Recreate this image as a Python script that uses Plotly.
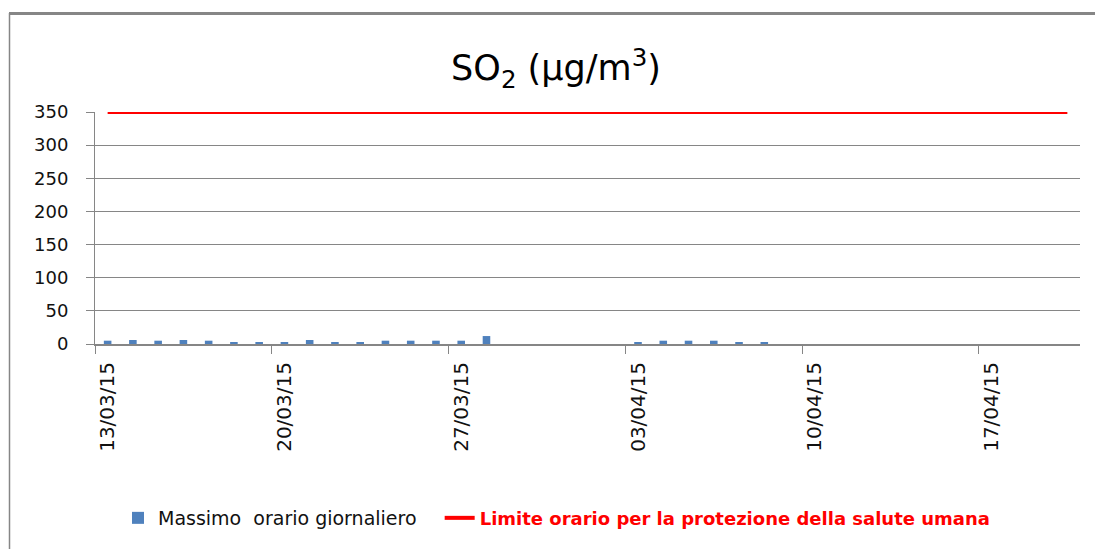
import pandas as pd
import plotly.graph_objects as go

# ---- data ----
dates = [d.strftime("%Y-%m-%d") for d in pd.date_range("2015-03-13", "2015-04-20", freq="D")]
massimo_orario = [5, 6, 5, 6, 5, 2, 2, 2, 6, 2, 2, 5, 5, 5, 5, 12,
                  None, None, None, None, None,
                  2, 5, 5, 5, 2, 2,
                  None, None, None, None, None, None, None, None, None, None, None, None]
limite_orario = [350] * len(dates)
tick_dates = ["2015-03-13", "2015-03-20", "2015-03-27", "2015-04-03", "2015-04-10", "2015-04-17"]
tick_labels = ["13/03/15", "20/03/15", "27/03/15", "03/04/15", "10/04/15", "17/04/15"]
y_ticks = [0, 50, 100, 150, 200, 250, 300, 350]

GRID = "#868686"
FONT = "DejaVu Sans"

boundaries = [(pd.Timestamp(d) - pd.Timedelta(hours=12)).strftime("%Y-%m-%d %H:%M") for d in tick_dates]
x_range = [(pd.Timestamp(dates[0]) - pd.Timedelta(hours=12)).strftime("%Y-%m-%d %H:%M"),
           (pd.Timestamp(dates[-1]) + pd.Timedelta(hours=12)).strftime("%Y-%m-%d %H:%M")]

fig = go.Figure()
fig.add_trace(go.Bar(x=dates, y=massimo_orario, name="Massimo  orario giornaliero\u00a0\u00a0\u00a0",
                     marker=dict(color="#4F81BD", line=dict(width=0))))
fig.add_trace(go.Scatter(x=dates, y=limite_orario, mode="lines",
                         name="<span style='color:#FF0000;font-weight:bold;font-size:18px'>Limite orario per la protezione della salute umana</span>",
                         line=dict(color="#FF0000", width=4)))

W, H = 1095, 549
L, R, T, B = 95, 15, 112, 205
pw, ph = W - L - R, H - T - B

def px_x(x):
    return (x - L) / pw

def px_y(y):
    return (H - B - y) / ph

fig.update_layout(
    width=W, height=H,
    margin=dict(l=L, r=R, t=T, b=B),
    paper_bgcolor="white", plot_bgcolor="white",
    font=dict(family=FONT, color="#111111", size=18),
    bargap=0.7,
    title=dict(text="SO<sub>2</sub> (µg/m<sup>3</sup>)", x=556 / W, xref="container", xanchor="center",
               y=1 - 68 / H, yref="container", yanchor="middle",
               font=dict(family=FONT, size=35, color="#000000")),
    showlegend=True,
    legend=dict(orientation="h", x=118 / W, xanchor="left", xref="container",
                y=1 - 518 / H, yref="container", yanchor="middle",
                font=dict(family=FONT, size=19, color="#111111"),
                itemwidth=30, bgcolor="rgba(0,0,0,0)"),
    xaxis=dict(type="date", range=x_range, tickvals=tick_dates, ticktext=tick_labels,
               tickangle=-90, ticks="outside", ticklen=8, tickcolor="rgba(0,0,0,0)",
               showgrid=False, showline=True, linecolor=GRID, linewidth=2,
               tickfont=dict(family=FONT, size=20, color="#111111"),
               minor=dict(tickvals=boundaries, ticks="outside", ticklen=8, tickcolor=GRID,
                          tickwidth=1, showgrid=False),
               zeroline=False),
    yaxis=dict(range=[0, 350], tickvals=y_ticks, showgrid=True, gridcolor=GRID, gridwidth=1,
               showline=True, linecolor=GRID, linewidth=1, ticks="outside", ticklen=8,
               tickcolor=GRID, ticklabelstandoff=14, zeroline=False,
               tickfont=dict(family=FONT, size=18, color="#111111")),
    shapes=[
        dict(type="line", xref="paper", yref="paper", x0=px_x(9), x1=px_x(1095), y0=px_y(13.5), y1=px_y(13.5),
             line=dict(color=GRID, width=3)),
        dict(type="line", xref="paper", yref="paper", x0=px_x(9.5), x1=px_x(9.5), y0=px_y(13), y1=px_y(549),
             line=dict(color=GRID, width=1.5)),
    ],
)

fig.write_html("out.html")
